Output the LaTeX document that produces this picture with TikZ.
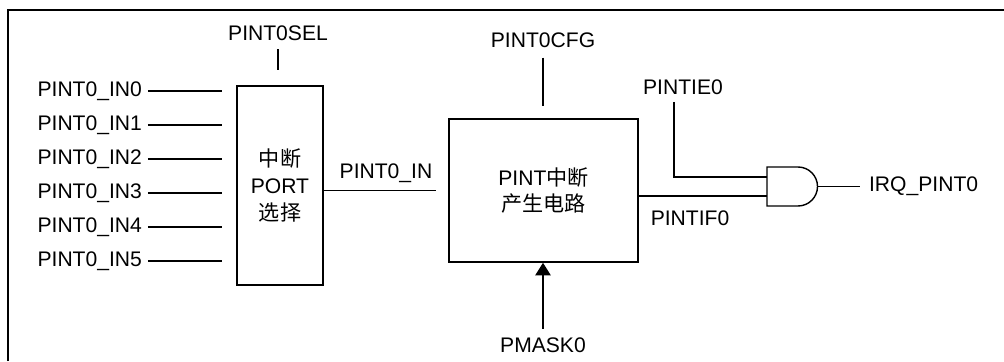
\documentclass[tikz,border=0pt]{standalone}
\usepackage{fontspec}
\setmainfont{Liberation Sans}
\newfontfamily\cjk{Noto Sans CJK SC}
\usetikzlibrary{arrows.meta}

\tikzset{
  wire/.style={black, line width=1pt},
  sig/.style={inner sep=2pt, font=\fontsize{15}{18}\selectfont},
  blk/.style={draw, line width=1.1pt, inner sep=0pt, align=center,
    font=\fontsize{15}{19}\selectfont}
}

\begin{document}
\begin{tikzpicture}[x=0.025cm, y=-0.025cm]

  \useasboundingbox (0,0) rectangle (1004,361);

  % frame
  \draw[line width=1.2pt] (8,361) -- (8,10) -- (1004,10);

  % port select block
  \node[blk, minimum width=2.15cm, minimum height=4.975cm] (sel) at (280,185.5)
    {{\cjk 中断}\\PORT\\{\cjk 选择}};
  \node[sig] (selL) at (278,33) {PINT0SEL};
  \draw[wire, shorten <=4pt, shorten >=10.5pt] (selL.south) -- (sel.north -| selL.south);

  \foreach \i in {0,...,5}
  {
  \node[sig, anchor=east] (in\i) at (145,91+34*\i) {PINT0\_IN\i};
  \draw[wire, shorten <=2pt, shorten >=10pt] (in\i.east) -- (in\i.east -| sel.west);
}

  % interrupt generation block
  \node[blk, minimum width=4.725cm, minimum height=3.575cm] (pint) at (543.5,190.5)
    {PINT{\cjk 中断}\\{\cjk 产生电路}};
  \node[sig] (cfgL) at (543,40) {PINT0CFG};
  \draw[wire, shorten <=5pt, shorten >=8.5pt] (cfgL.south) -- (pint.north -| cfgL.south);
  \node[sig] (maskL) at (543,345) {PMASK0};
  \draw[wire, -{Triangle[length=9pt,width=11pt]}, shorten <=4pt] (maskL.north) -- (pint.south -| maskL.north);

  \draw[wire, shorten >=8.5pt] (sel.east |- pint.west) -- node[sig, above=3pt, midway] (inL) {PINT0\_IN} (pint.west);

  % and gate
  \coordinate (and1) at (767,177);
  \coordinate (and2) at (767,196);
  \coordinate (andout) at (817.5,186.5);
  \draw[wire] (767,167) -- (798,167) arc[start angle=-90, end angle=90, radius=19.5] -- (767,206) -- cycle;

  \node[sig] (ieL) at (683,87) {PINTIE0};
  \draw[wire, shorten <=3pt] ([xshift=-6.4pt]ieL.south) |- (and1);
  \draw[wire] (pint.east |- and2) -- (and2);
  \node[sig] (ifL) at (690,218) {PINTIF0};

  \node[sig, anchor=west] (irq) at (866,186.5) {IRQ\_PINT0};
  \draw[wire, shorten >=4pt] (andout) -- (irq.west);

\end{tikzpicture}
\end{document}
